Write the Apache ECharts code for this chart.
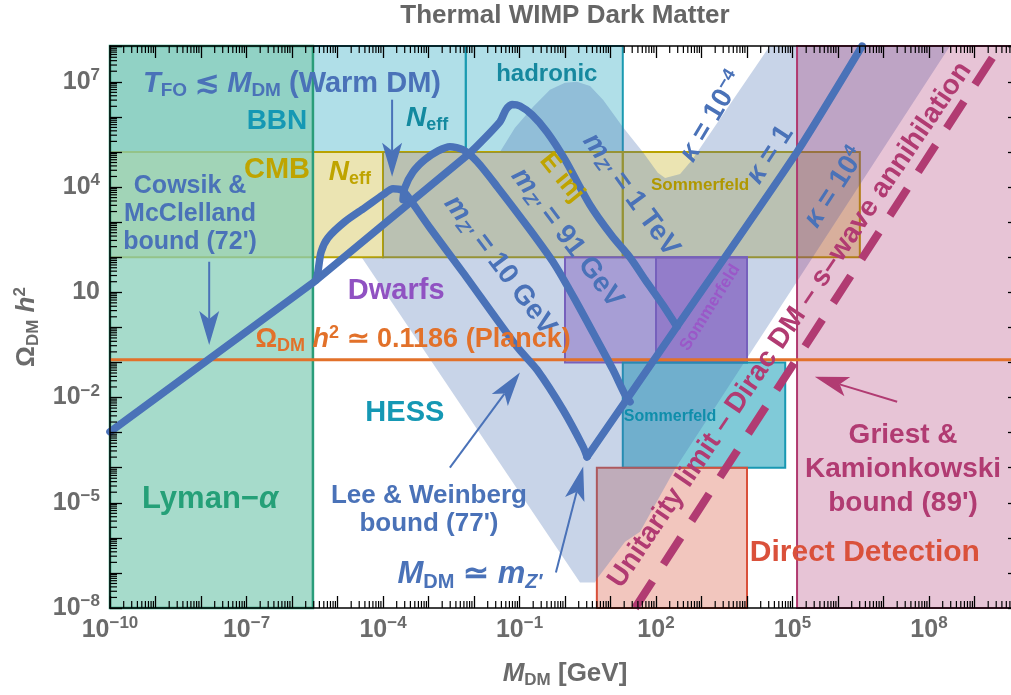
<!DOCTYPE html>
<html><head><meta charset="utf-8">
<script src="https://cdn.jsdelivr.net/npm/echarts@6/dist/echarts.min.js"></script>
<style>html,body{margin:0;padding:0;background:#fff;overflow:hidden}#c{width:1011px;height:695px}</style>
</head><body><div id="c"></div>
<script>
// ---------------- data (all in log10 units: x = log10 M_DM[GeV], y = log10 Omega h^2) ----------------
const X_MIN = -10, X_MAX = 10;
const Y_MIN = -8, Y_MAX = 8.02;
const xTickLabelExps = [-10, -7, -4, -1, 2, 5, 8];
const yTickLabelExps = [-8, -5, -2, 1, 4, 7];

// rectangular constraint regions
const regionNames  = ['BBN Neff', 'BBN hadronic', 'CMB Neff', 'CMB Einj', 'CMB Einj Sommerfeld', 'Dwarfs', 'Dwarfs Sommerfeld', 'HESS Sommerfeld', 'Direct Detection', 'Lyman-alpha', 'Griest-Kamionkowski'];
const regionLogMLo = [-10,   -2.18, -10, -4,   1.27, 0, 2,  1.27, 0.70, -10,   5.10];
const regionLogMHi = [-2.18,  1.27, -4,  1.27, 6.48, 4, 4,  4.84, 4.00, -5.54, 10];
const regionLogOLo = [5,      5,     2,  2,    2,   -1, -1, -4,  -8,   -8,    -8];
const regionLogOHi = [8.02,   8.02,  5,  5,    5,    2,  2, -1,  -4,    8.02,  8.02];

// light-blue region (kappa band + Lee-Weinberg area), boundary vertices
const allowedLogM = [-4.0, -1.43, -1.10, -0.70, -0.33, 0.0, 0.26, 0.55, 0.84, 1.27, 1.71, 2.04, 2.20, 2.53, 2.79, 4.50, 8.46, 5.12, 4.02, 2.42, 1.65, 1.32, 0.70, 0.66, 0.33, -4.46, -4.0];
const allowedLogO = [5.0, 5.0, 5.69, 6.29, 6.77, 6.97, 7.0, 6.88, 6.48, 5.71, 5.0, 4.41, 4.26, 4.37, 4.77, 8.02, 8.02, 1.35, -0.84, -4.03, -5.83, -6.11, -7.17, -7.27, -7.27, 1.98, 2.0];

// Planck relic abundance
const planckOmega = 0.1186;

// thick relic-density curves
const cowsikLogM = [-10, -5.54, -2.09];
const cowsikLogO = [-2.98, 1.27, 4.97];
const tev1LogM = [-2.09, -1.43, -1.30, -1.165, -0.99, -0.725, -0.396, 0.0, 0.55, 1.03, 1.43, 1.76, 2.15, 2.46];
const tev1LogO = [4.97, 5.86, 6.20, 6.35, 6.31, 6.06, 5.57, 4.78, 3.49, 2.61, 1.99, 1.36, 0.64, 0.02];
const gev10LogM = [-5.47, -5.43, -5.36, -5.21, -4.84, -4.40, -4.0, -3.78, -3.60, -3.45, -2.97, -2.24, -1.055, -0.615, -0.044, 0.396, 0.484];
const gev10LogO = [1.35, 1.58, 2.15, 2.55, 3.01, 3.41, 3.78, 3.95, 3.92, 3.72, 2.84, 1.56, -0.555, -1.21, -2.35, -3.40, -3.69];
const gev91LogM = [-3.56, -3.52, -3.34, -3.08, -2.79, -2.53, -2.24, -1.93, -1.49, -0.77, -0.22, 0.26, 0.70, 1.055, 1.32, 1.43];
const gev91LogO = [3.64, 3.98, 4.43, 4.78, 5.03, 5.15, 5.06, 4.72, 4.01, 2.78, 1.78, 0.70, -0.35, -1.21, -1.92, -2.12];
const kappa1LogM = [0.484, 2.46, 5.10, 6.53];
const kappa1LogO = [-3.69, 0.02, 5.0, 8.02];

// unitarity limit (dashed)
const unitarityLogM = [1.54, 9.56];
const unitarityLogO = [-8, 8.02];

// ---------------- styles ----------------
const F = "'Liberation Sans', Arial, Helvetica, sans-serif";
const BLUE = '#4a72b8', TEAL = '#1598b4', OLIVE = '#bfa400', PURPLE = '#9052c2', ORANGE = '#e2712a',
      GREEN = '#25a078', MAGENTA = '#b13b72', RED = '#da513b', GRAY = '#6b6b6b';

const regionStyles = {
  'BBN Neff':            {fill: 'rgba(80,185,205,0.45)',  stroke: '#1a9ab0', lw: 2},
  'BBN hadronic':        {fill: 'rgba(80,185,205,0.45)',  stroke: '#1a9ab0', lw: 2},
  'CMB Neff':            {fill: 'rgba(205,188,62,0.4)',   stroke: '#b8a200', lw: 2},
  'CMB Einj':            {fill: 'rgba(205,188,62,0.4)',   stroke: '#b8a200', lw: 2},
  'CMB Einj Sommerfeld': {fill: 'rgba(205,188,62,0.4)',   stroke: '#b8a200', lw: 2},
  'Dwarfs':              {fill: 'rgba(140,70,190,0.42)',  stroke: '#8a5ac0', lw: 2},
  'Dwarfs Sommerfeld':   {fill: 'rgba(140,70,190,0.42)',  stroke: '#8a5ac0', lw: 2},
  'HESS Sommerfeld':     {fill: 'rgba(43,167,190,0.6)',   stroke: '#1898b2', lw: 2},
  'Direct Detection':    {fill: 'rgba(222,112,92,0.4)',   stroke: '#d9503a', lw: 2},
  'Lyman-alpha':         {fill: 'rgba(135,206,185,0.74)', stroke: '#2a9d7a', lw: 2.5},
  'Griest-Kamionkowski': {fill: 'rgba(161,23,94,0.255)',  stroke: '#b03a6f', lw: 2}
};

// annotations (text placed in data coordinates)
const annotations = [
  {t: '{i|T}{s|FO}{n| ≲ }{i|M}{s|DM}{n| (Warm DM)}', at: [-6.0, 6.94], size: 29, color: BLUE},
  {t: '{n|BBN}', at: [-6.33, 5.86], size: 28, color: TEAL},
  {t: '{i|N}{s|eff}', at: [-3.03, 5.97], size: 28, color: '#13899f'},
  {t: '{n|hadronic}', at: [-0.40, 7.20], size: 24, color: '#16889f'},
  {t: '{n|CMB}', at: [-6.33, 4.48], size: 29, color: OLIVE},
  {t: '{i|N}{s|eff}', at: [-4.73, 4.42], size: 28, color: OLIVE},
  {t: '{n|Cowsik &}\n{n|McClelland}\n{n|bound (72\')}', at: [-8.24, 3.23], size: 25, color: BLUE, lh: 28},
  {t: '{n|Dwarfs}', at: [-3.71, 1.04], size: 29, color: PURPLE},
  {t: '{n|Ω}{s|DM}{n| }{i|h}{p|2}{n| ≃ 0.1186 (Planck)}', at: [-3.34, -0.36], size: 27, color: ORANGE},
  {t: '{n|HESS}', at: [-3.52, -2.43], size: 29, color: TEAL},
  {t: '{n|Lyman−}{i|α}', at: [-7.80, -4.91], size: 31, color: GREEN},
  {t: '{n|Lee & Weinberg}\n{n|bound (77\')}', at: [-2.99, -5.20], size: 26, color: BLUE, lh: 28},
  {t: '{i|M}{s|DM}{n| ≃ }{i|m}{si|Z′}', at: [-2.09, -7.04], size: 31, color: BLUE},
  {t: '{n|Griest &}\n{n|Kamionkowski}\n{n|bound (89\')}', at: [7.43, -4.04], size: 28, color: MAGENTA, lh: 34},
  {t: '{n|Direct Detection}', at: [6.59, -6.42], size: 30, color: RED},
  {t: '{n|Sommerfeld}', at: [2.97, 4.06], size: 17, color: '#b09800'},
  {t: '{n|Sommerfeld}', at: [3.19, 0.56], size: 17, color: '#9a58c8', rot: 58},
  {t: '{n|Sommerfeld}', at: [2.31, -2.55], size: 16, color: '#0f8eab'},
  {t: '{n|E inj}', at: [-0.07, 4.27], size: 26, color: OLIVE, rot: -51},
  {t: '{i|m}{si|Z′}{n| = 10 GeV}', at: [-1.43, 1.77], size: 28, color: BLUE, rot: -53},
  {t: '{i|m}{si|Z′}{n| = 91 GeV}', at: [0.044, 2.55], size: 28, color: BLUE, rot: -53},
  {t: '{i|m}{si|Z′}{n| = 1 TeV}', at: [1.45, 3.78], size: 28, color: BLUE, rot: -54},
  {t: '{i|κ}{n| = 10}{p|−4}', at: [3.23, 6.0], size: 28, color: BLUE, rot: 59},
  {t: '{i|κ}{n| = 1}', at: [4.505, 4.92], size: 28, color: BLUE, rot: 57},
  {t: '{i|κ}{n| = 10}{p|4}', at: [5.93, 3.98], size: 28, color: BLUE, rot: 57},
  {t: '{n|Unitarity limit – Dirac DM – s–wave annihilation}', at: [4.945, 0.07], size: 28, color: MAGENTA, rot: 56}
];

const arrows = [
  {from: [-3.80, 6.49], to: [-3.80, 4.29], color: BLUE},
  {from: [-7.82, 1.87], to: [-7.82, -0.50], color: BLUE},
  {from: [-2.53, -4.0], to: [-0.99, -1.29], color: BLUE},
  {from: [-0.20, -6.99], to: [0.40, -3.97], color: BLUE},
  {from: [7.30, -2.12], to: [5.49, -1.41], color: MAGENTA}
];

// ---------------- helpers ----------------
function pairs(a, b) { return a.map((v, i) => [v, b[i]]); }
function makeRich(size, color, lh) {
  const L = lh || Math.round(size * 1.15);
  const sub = Math.round(size * 0.66);
  const base = {fontFamily: F, fontWeight: 'bold', fill: color, align: 'center'};
  return {
    n: Object.assign({}, base, {fontSize: size, lineHeight: L}),
    i: Object.assign({}, base, {fontSize: size, fontStyle: 'italic', lineHeight: L}),
    s: Object.assign({}, base, {fontSize: sub, lineHeight: sub, verticalAlign: 'bottom'}),
    si: Object.assign({}, base, {fontSize: sub, fontStyle: 'italic', lineHeight: sub, verticalAlign: 'bottom'}),
    p: Object.assign({}, base, {fontSize: sub, lineHeight: sub, verticalAlign: 'top'})
  };
}
function expText(r) { return r < 0 ? '−' + (-r) : String(r); }
function tickFormatter(list) {
  return function (v) {
    const r = Math.round(v);
    if (Math.abs(v - r) > 1e-6 || list.indexOf(r) < 0) return '';
    return r === 1 ? '{b|10}' : '{b|10}{e|' + expText(r) + '}';
  };
}
const tickRich = {
  b: {fontFamily: F, fontSize: 25, fontWeight: 'bold', color: GRAY, lineHeight: 30},
  e: {fontFamily: F, fontSize: 17, fontWeight: 'bold', color: GRAY, lineHeight: 17, verticalAlign: 'top'}
};

const minorX = [], minorY = [];
for (let n = X_MIN; n < X_MAX; n++) for (let k = 2; k <= 9; k++) { const v = n + Math.log10(k); if (v < X_MAX) minorX.push([v, 0]); }
for (let n = Y_MIN; n < Y_MAX; n++) for (let k = 2; k <= 9; k++) { const v = n + Math.log10(k); if (v < Y_MAX) minorY.push([0, v]); }

function rectItem(params, api) {
  const i = api.value(0);
  const st = regionStyles[regionNames[i]];
  const p0 = api.coord([regionLogMLo[i], regionLogOHi[i]]);
  const p1 = api.coord([regionLogMHi[i], regionLogOLo[i]]);
  return {type: 'rect', shape: {x: p0[0], y: p0[1], width: p1[0] - p0[0], height: p1[1] - p0[1]},
          style: {fill: st.fill, stroke: st.stroke, lineWidth: st.lw}};
}

const lineCommon = {type: 'line', showSymbol: false, symbol: 'none', silent: true, clip: true, animation: false};

const axisLineStyle = {onZero: false, lineStyle: {color: '#000', width: 1.5}};
const axisTickStyle = {inside: true, length: 12, lineStyle: {color: '#000', width: 1.3}};

const option = {
  animation: false,
  title: {text: 'Thermal WIMP Dark Matter', left: 565, top: 3, textAlign: 'center', padding: 0,
          textStyle: {fontFamily: F, fontSize: 26, fontWeight: 'bold', color: '#666'}},
  grid: {left: 110, top: 46, width: 910, height: 562, containLabel: false, outerBoundsMode: 'none'},
  xAxis: [
    {type: 'value', min: X_MIN, max: X_MAX, interval: 1, position: 'bottom', z: 10,
     axisLine: axisLineStyle, axisTick: axisTickStyle, splitLine: {show: false},
     axisLabel: {formatter: tickFormatter(xTickLabelExps), rich: tickRich, margin: 7, interval: 0, hideOverlap: false},
     name: '{i|M}{s|DM}{n| [GeV]}', nameLocation: 'middle', nameGap: 51,
     nameTextStyle: {rich: {
       n: {fontFamily: F, fontSize: 26, fontWeight: 'bold', color: GRAY, lineHeight: 30},
       i: {fontFamily: F, fontSize: 26, fontWeight: 'bold', fontStyle: 'italic', color: GRAY, lineHeight: 30},
       s: {fontFamily: F, fontSize: 17, fontWeight: 'bold', color: GRAY, lineHeight: 17, verticalAlign: 'bottom'}}}},
    {type: 'value', min: X_MIN, max: X_MAX, interval: 1, position: 'top', z: 10,
     axisLine: axisLineStyle, axisTick: axisTickStyle, splitLine: {show: false}, axisLabel: {show: false}}
  ],
  yAxis: [
    {type: 'value', min: Y_MIN, max: Y_MAX, interval: 1, position: 'left', z: 10,
     axisLine: axisLineStyle, axisTick: axisTickStyle, splitLine: {show: false},
     axisLabel: {formatter: tickFormatter(yTickLabelExps), rich: tickRich, margin: 10, interval: 0, hideOverlap: false},
     name: '{n|Ω}{s|DM}{n| }{i|h}{p|2}', nameLocation: 'middle', nameGap: 66, nameRotate: 90,
     nameTextStyle: {rich: {
       n: {fontFamily: F, fontSize: 26, fontWeight: 'bold', color: GRAY, lineHeight: 30},
       i: {fontFamily: F, fontSize: 26, fontWeight: 'bold', fontStyle: 'italic', color: GRAY, lineHeight: 30},
       s: {fontFamily: F, fontSize: 17, fontWeight: 'bold', color: GRAY, lineHeight: 17, verticalAlign: 'bottom'},
       p: {fontFamily: F, fontSize: 17, fontWeight: 'bold', color: GRAY, lineHeight: 17, verticalAlign: 'top'}}}},
    {type: 'value', min: Y_MIN, max: Y_MAX, interval: 1, position: 'right', z: 10,
     axisLine: axisLineStyle, axisTick: axisTickStyle, splitLine: {show: false}, axisLabel: {show: false}}
  ],
  series: [
    // base constraint boxes (all but GK), Lyman on top of them
    {type: 'custom', silent: true, renderItem: rectItem, data: regionNames.slice(0, 10).map((n, i) => [i, 0])},
    // light blue region
    {type: 'custom', silent: true, data: [[0, 0]], renderItem: function (params, api) {
      const pts = allowedLogM.map((m, i) => api.coord([m, allowedLogO[i]]));
      return {type: 'polygon', shape: {points: pts}, style: {fill: 'rgba(72,112,178,0.3)'}};
    }},
    // Planck line
    Object.assign({}, lineCommon, {data: [[X_MIN, Math.log10(planckOmega)], [X_MAX, Math.log10(planckOmega)]],
      lineStyle: {color: ORANGE, width: 3}}),
    // thick blue curves
    Object.assign({}, lineCommon, {data: pairs(cowsikLogM, cowsikLogO), lineStyle: {color: BLUE, width: 7.5, cap: 'round', join: 'round'}}),
    Object.assign({}, lineCommon, {data: pairs(gev10LogM, gev10LogO), smooth: 0.25, lineStyle: {color: BLUE, width: 7.5, cap: 'round', join: 'round'}}),
    Object.assign({}, lineCommon, {data: pairs(gev91LogM, gev91LogO), smooth: 0.25, lineStyle: {color: BLUE, width: 7.5, cap: 'round', join: 'round'}}),
    Object.assign({}, lineCommon, {data: pairs(tev1LogM, tev1LogO), smooth: 0.25, lineStyle: {color: BLUE, width: 7.5, cap: 'round', join: 'round'}}),
    Object.assign({}, lineCommon, {data: pairs(kappa1LogM, kappa1LogO), smooth: 0.2, lineStyle: {color: BLUE, width: 7.5, cap: 'round', join: 'round'}}),
    // Griest-Kamionkowski region (over the curves)
    {type: 'custom', silent: true, renderItem: rectItem, data: [[10, 0]]},
    // unitarity dashed line
    Object.assign({}, lineCommon, {data: pairs(unitarityLogM, unitarityLogO),
      lineStyle: {color: MAGENTA, width: 8, type: [32, 20], cap: 'butt'}}),
    // arrows
    {type: 'custom', silent: true, z: 5, data: arrows.map((a, i) => [i, 0]), renderItem: function (params, api) {
      const a = arrows[params.dataIndex];
      const p1 = api.coord(a.from), p2 = api.coord(a.to);
      const dx = p2[0] - p1[0], dy = p2[1] - p1[1], len = Math.hypot(dx, dy);
      const ux = dx / len, uy = dy / len, px = -uy, py = ux;
      const L = 34, W = 20, N = 8;
      const bx = p2[0] - ux * L, by = p2[1] - uy * L;
      const back = [p2[0] - ux * (L - N), p2[1] - uy * (L - N)];
      return {type: 'group', children: [
        {type: 'line', shape: {x1: p1[0], y1: p1[1], x2: back[0], y2: back[1]}, style: {stroke: a.color, lineWidth: 2}},
        {type: 'polygon', shape: {points: [p2, [bx + px * W / 2, by + py * W / 2], back, [bx - px * W / 2, by - py * W / 2]]},
         style: {fill: a.color}}
      ]};
    }},
    // text annotations
    {type: 'custom', silent: true, z: 6, data: annotations.map((a, i) => [i, 0]), renderItem: function (params, api) {
      const a = annotations[params.dataIndex];
      const p = api.coord(a.at);
      return {type: 'text', x: p[0], y: p[1], rotation: (a.rot || 0) * Math.PI / 180,
        style: {text: a.t, rich: makeRich(a.size, a.color, a.lh), align: 'center', verticalAlign: 'middle',
                fill: a.color, fontSize: a.size, fontWeight: 'bold', fontFamily: F}};
    }},
    // logarithmic minor ticks
    {type: 'custom', silent: true, z: 10, data: minorX, renderItem: function (params, api) {
      const cs = params.coordSys; const x = api.coord([api.value(0), Y_MIN])[0];
      const st = {stroke: '#000', lineWidth: 1.2};
      return {type: 'group', children: [
        {type: 'line', shape: {x1: x, y1: cs.y + cs.height, x2: x, y2: cs.y + cs.height - 7}, style: st},
        {type: 'line', shape: {x1: x, y1: cs.y, x2: x, y2: cs.y + 7}, style: st}]};
    }},
    {type: 'custom', silent: true, z: 10, data: minorY, renderItem: function (params, api) {
      const cs = params.coordSys; const y = api.coord([X_MIN, api.value(1)])[1];
      const st = {stroke: '#000', lineWidth: 1.2};
      return {type: 'group', children: [
        {type: 'line', shape: {x1: cs.x, y1: y, x2: cs.x + 7, y2: y}, style: st},
        {type: 'line', shape: {x1: cs.x + cs.width, y1: y, x2: cs.x + cs.width - 7, y2: y}, style: st}]};
    }}
  ]
};

const chart = echarts.init(document.getElementById('c'), null, {renderer: 'canvas'});
chart.setOption(option);
</script>
</body></html>
